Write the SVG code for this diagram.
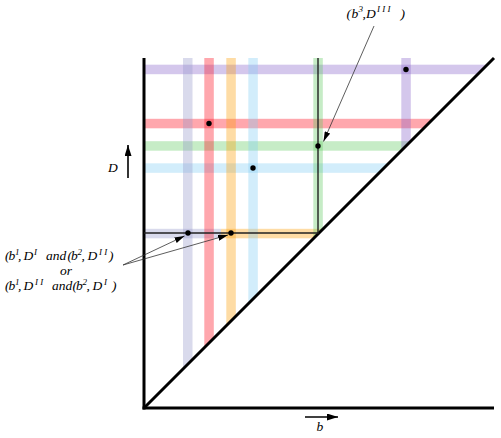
<svg xmlns="http://www.w3.org/2000/svg" width="501" height="438" viewBox="0 0 501 438">
<style>
.t{font-family:"Liberation Serif","Times New Roman",serif;font-style:italic;font-size:13.5px;fill:#000}
.s{font-size:9px}
.band{opacity:0.36}
.ax{stroke:#000;stroke-width:3;fill:none}
.dot{fill:#000}
.con{stroke:#333;stroke-width:0.8;fill:none}
</style>
<defs>
<clipPath id="tri"><polygon points="140,50 502,50 140,412"/></clipPath>
<marker id="ah" viewBox="0 0 10 6" refX="10" refY="3" markerWidth="10" markerHeight="6" markerUnits="userSpaceOnUse" orient="auto"><path d="M0,0 L10,3 L0,6 Z" fill="#000"/></marker>
<marker id="ahb" viewBox="0 0 11 7" refX="11" refY="3.5" markerWidth="11" markerHeight="7" markerUnits="userSpaceOnUse" orient="auto"><path d="M0,0 L11,3.5 L0,7 Z" fill="#000"/></marker>
</defs>
<g id="bands" clip-path="url(#tri)">
<rect class="band" x="144" y="64.7" width="360" height="9.5" fill="rgb(135,101,201)"/>
<rect class="band" x="144" y="118.8" width="360" height="9.5" fill="rgb(255,12,29)"/>
<rect class="band" x="144" y="141.2" width="360" height="9.5" fill="rgb(98,201,98)"/>
<rect class="band" x="144" y="163.3" width="360" height="9.5" fill="rgb(129,206,244)"/>
<rect class="band" x="144" y="228.8" width="77" height="9.5" fill="rgb(149,152,201)"/>
<rect class="band" x="221" y="228.8" width="102" height="9.5" fill="rgb(252,158,6)"/>
<rect class="band" x="183" y="58" width="9.5" height="360" fill="rgb(149,152,201)"/>
<rect class="band" x="204.3" y="58" width="9.5" height="360" fill="rgb(255,12,29)"/>
<rect class="band" x="226.3" y="58" width="9.5" height="360" fill="rgb(252,158,6)"/>
<rect class="band" x="248.3" y="58" width="9.5" height="360" fill="rgb(129,206,244)"/>
<rect class="band" x="313.3" y="58" width="9.5" height="360" fill="rgb(98,201,98)"/>
<rect class="band" x="401.3" y="58" width="9.5" height="360" fill="rgb(135,101,201)"/>
</g>
<g id="axes">
<line class="ax" x1="144" y1="58" x2="144" y2="409.5"/>
<line class="ax" x1="142.5" y1="408" x2="494" y2="408"/>
<line class="ax" x1="144" y1="408" x2="494" y2="58" stroke-width="2.8"/>
</g>
<g id="corner-lines">
<polyline points="144,233 318,233 318,58" fill="none" stroke="#222" stroke-width="1.4"/>
</g>
<g id="points">
<circle class="dot" cx="188" cy="233" r="2.7"/>
<circle class="dot" cx="231" cy="233" r="2.7"/>
<circle class="dot" cx="209" cy="123.5" r="2.7"/>
<circle class="dot" cx="253" cy="168" r="2.7"/>
<circle class="dot" cx="318" cy="146" r="2.7"/>
<circle class="dot" cx="406" cy="69.5" r="2.7"/>
</g>
<g id="connectors">
<line class="con" x1="374" y1="26" x2="323.5" y2="141.5" marker-end="url(#ah)"/>
<line class="con" x1="123" y1="265" x2="184.5" y2="236" marker-end="url(#ah)"/>
<line class="con" x1="123" y1="265" x2="228" y2="235" marker-end="url(#ah)"/>
<line x1="128" y1="178" x2="128" y2="145" stroke="#000" stroke-width="1.6" marker-end="url(#ahb)"/>
<line x1="305" y1="417" x2="338" y2="417" stroke="#000" stroke-width="1.6" marker-end="url(#ahb)"/>
</g>
<g id="label-top">
<text class="t" y="18.3"><tspan x="346.5">(</tspan><tspan x="351.5">b</tspan><tspan x="358.5" y="12" class="s">3</tspan><tspan x="362.5" y="18.3">,</tspan><tspan x="366">D</tspan><tspan x="377" y="12" class="s">I I I</tspan><tspan x="400.5" y="18.3">)</tspan></text>
</g>
<g id="label-left">
<text class="t" y="260"><tspan x="5">(</tspan><tspan x="8.5">b</tspan><tspan x="15" y="254.5" class="s">1</tspan><tspan x="18" y="260">,</tspan><tspan x="23.5">D</tspan><tspan x="34" y="254.5" class="s">I</tspan><tspan x="46" y="260">and</tspan><tspan x="67.5">(</tspan><tspan x="71">b</tspan><tspan x="77.5" y="254.5" class="s">2</tspan><tspan x="81.5" y="260">,</tspan><tspan x="87.5">D</tspan><tspan x="99" y="254.5" class="s">I I</tspan><tspan x="109" y="260">)</tspan></text>
<text class="t" x="60" y="275">or</text>
<text class="t" y="290"><tspan x="5">(</tspan><tspan x="8.5">b</tspan><tspan x="15" y="284.5" class="s">1</tspan><tspan x="18" y="290">,</tspan><tspan x="23.5">D</tspan><tspan x="35" y="284.5" class="s">I I</tspan><tspan x="52" y="290">and</tspan><tspan x="72.5">(</tspan><tspan x="76">b</tspan><tspan x="82.5" y="284.5" class="s">2</tspan><tspan x="86.5" y="290">,</tspan><tspan x="92.5">D</tspan><tspan x="104" y="284.5" class="s">I</tspan><tspan x="112" y="290">)</tspan></text>
</g>
<g id="label-D"><text class="t" x="108" y="172">D</text></g>
<g id="label-b"><text class="t" x="316.5" y="431">b</text></g>
</svg>
